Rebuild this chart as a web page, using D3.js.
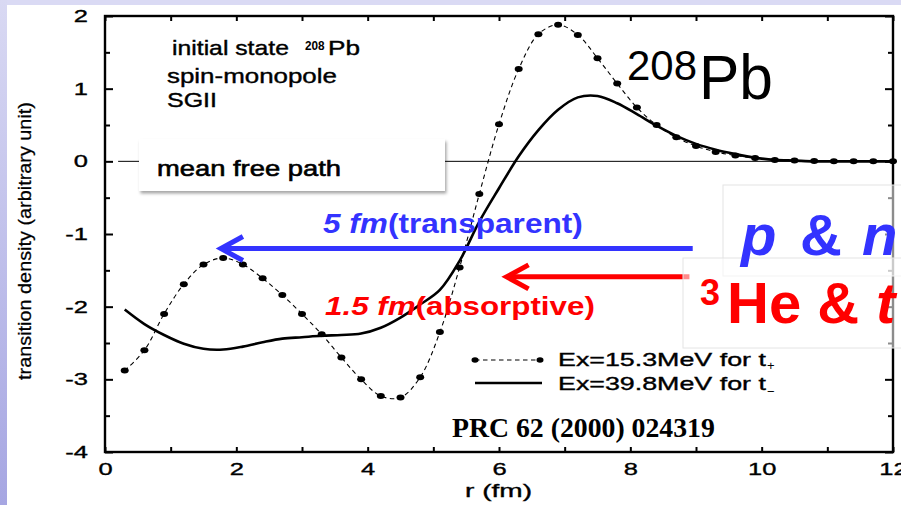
<!DOCTYPE html>
<html>
<head>
<meta charset="utf-8">
<script src="https://cdn.jsdelivr.net/npm/d3@7"></script>
<style>
  html, body { margin: 0; padding: 0; background: #fff; }
  svg { display: block; }
</style>
</head>
<body>
<svg id="chart" width="901" height="505"></svg>
<script>
// Radial grid (fm) shared by both transition densities
const radius = [0.3, 0.6, 0.9, 1.2, 1.5, 1.8, 2.1, 2.4, 2.7, 3.0,
                3.3, 3.6, 3.9, 4.2, 4.5, 4.8, 5.1, 5.4, 5.7, 6.0,
                6.3, 6.6, 6.9, 7.2, 7.5, 7.8, 8.1, 8.4, 8.7, 9.0,
                9.3, 9.6, 9.9, 10.2, 10.5, 10.8, 11.1, 11.4, 11.7, 12.0];

// Ex = 15.3 MeV, t+ channel (dashed with dots)
const densityTPlus = [-2.88, -2.60, -2.10, -1.69, -1.42, -1.33, -1.42, -1.61, -1.84, -2.10,
                      -2.38, -2.70, -3.00, -3.23, -3.25, -2.97, -2.35, -1.46, -0.45, 0.51,
                       1.27, 1.75, 1.88, 1.74, 1.42, 1.07, 0.74, 0.50, 0.33, 0.21,
                       0.13, 0.08, 0.045, 0.02, 0.01, 0.005, 0.0, 0.0, 0.0, 0.0];

// Ex = 39.8 MeV, t- channel (solid)
const densityTMinus = [-2.04, -2.24, -2.39, -2.51, -2.58, -2.59, -2.55, -2.49, -2.44, -2.42,
                       -2.40, -2.39, -2.37, -2.29, -2.15, -1.97, -1.77, -1.37, -0.83, -0.37,
                        0.07, 0.43, 0.71, 0.88, 0.90, 0.80, 0.65, 0.49, 0.35, 0.24,
                        0.16, 0.10, 0.05, 0.02, 0.01, 0.0, 0.0, 0.0, 0.0, 0.0];

const xTickValues = [0, 1, 2, 3, 4, 5, 6, 7, 8, 9, 10, 11, 12];
const xTickLabels = ["0", "", "2", "", "4", "", "6", "", "8", "", "10", "", "12"];
const yTickValues = [-4, -3.5, -3, -2.5, -2, -1.5, -1, -0.5, 0, 0.5, 1, 1.5, 2];
const yTickLabels = ["-4", "", "-3", "", "-2", "", "-1", "", "0", "", "1", "", "2"];

const legendLabels = ["Ex=15.3MeV for t", "Ex=39.8MeV for t"];
const legendSubs = ["+", "\u2212"];

// Mean-free-path arrows, in data units (r from -> to, at density level)
const mfpArrows = [
  { from: 8.95, to: 1.75, level: -1.20, color: "#3333ff" },
  { from: 8.90, to: 6.10, level: -1.59, color: "#ff0000" }
];

const SANS = "'Liberation Sans', Arial, Helvetica, sans-serif";
const SERIF = "'Liberation Serif', 'Times New Roman', serif";

const svg = d3.select("#chart");

// slide background: lavender bands along the top and left edge
const defs = svg.append("defs");
const grad = defs.append("linearGradient").attr("id", "edgeGrad")
  .attr("x1", 0).attr("y1", 0).attr("x2", 0).attr("y2", 1);
grad.append("stop").attr("offset", "0%").attr("stop-color", "#d9d9f3");
grad.append("stop").attr("offset", "100%").attr("stop-color", "#a6a6e2");
const shadow = defs.append("filter").attr("id", "boxShadow")
  .attr("x", "-10%").attr("y", "-20%").attr("width", "130%").attr("height", "160%");
shadow.append("feDropShadow").attr("dx", 1.5).attr("dy", 2.5)
  .attr("stdDeviation", 1.8).attr("flood-color", "#000").attr("flood-opacity", 0.35);

svg.append("rect").attr("x", 0).attr("y", 0).attr("width", 901).attr("height", 505).attr("fill", "#fff");
svg.append("rect").attr("x", 0).attr("y", 0).attr("width", 901).attr("height", 5).attr("fill", "#dadaf4");
svg.append("rect").attr("x", 0).attr("y", 0).attr("width", 7).attr("height", 505).attr("fill", "url(#edgeGrad)");

// scales
const x = d3.scaleLinear().domain([0, 12]).range([105, 893]);
const y = d3.scaleLinear().domain([-4, 2]).range([452, 16]);

// helper: draw a text and stretch it horizontally to a given width
function fitText(parent, px, py, width, build) {
  const g = parent.append("g").attr("transform", `translate(${px},${py})`);
  const t = g.append("text").attr("x", 0).attr("y", 0);
  build(t);
  const w = t.node().getBBox().width;
  t.attr("transform", `scale(${width / w},1)`);
  return g;
}

// slightly heavier strokes for the plot's own lettering
function ink(t, w) {
  return t.attr("stroke", "#000").attr("stroke-width", w).attr("paint-order", "stroke");
}

const plot = svg.append("g");

// zero reference line
plot.append("line")
  .attr("x1", x(0.2)).attr("x2", x(12))
  .attr("y1", y(0)).attr("y2", y(0))
  .attr("stroke", "#000").attr("stroke-width", 1);

// axes
const labelStretch = 1.5;
function styleAxis(g) {
  g.select(".domain").remove();
  g.selectAll(".tick line").attr("stroke", "#000").attr("stroke-width", 2);
  g.selectAll(".tick text").attr("fill", "#000")
    .attr("stroke", "#000").attr("stroke-width", 0.35)
    .style("font-family", SANS).style("font-size", "17px");
}

const bottomAxis = plot.append("g").attr("transform", `translate(0,${y(-4)})`)
  .call(d3.axisBottom(x).tickValues(xTickValues)
    .tickFormat((d, i) => xTickLabels[i]).tickSize(-5).tickPadding(11));
styleAxis(bottomAxis);
bottomAxis.selectAll(".tick text").attr("transform", `scale(${labelStretch},1)`);

const topAxis = plot.append("g").attr("transform", `translate(0,${y(2)})`)
  .call(d3.axisTop(x).tickValues(xTickValues).tickFormat("").tickSize(-5));
styleAxis(topAxis);

const leftAxis = plot.append("g").attr("transform", `translate(${x(0)},0)`)
  .call(d3.axisLeft(y).tickValues(yTickValues)
    .tickFormat((d, i) => yTickLabels[i]).tickSize(-8).tickPadding(17));
styleAxis(leftAxis);
leftAxis.selectAll(".tick line").attr("x2", d => Number.isInteger(d) ? 8 : 5);
leftAxis.selectAll(".tick text")
  .attr("x", -17 / labelStretch)
  .attr("transform", `scale(${labelStretch},1)`);

const rightAxis = plot.append("g").attr("transform", `translate(${x(12)},0)`)
  .call(d3.axisRight(y).tickValues(yTickValues).tickFormat("").tickSize(-8));
styleAxis(rightAxis);
rightAxis.selectAll(".tick line").attr("x2", d => Number.isInteger(d) ? -8 : -5);

// frame
plot.append("rect")
  .attr("x", x(0)).attr("y", y(2))
  .attr("width", x(12) - x(0)).attr("height", y(-4) - y(2))
  .attr("fill", "none").attr("stroke", "#000").attr("stroke-width", 2.4);

// axis titles
fitText(svg, 465, 497, 67, t => ink(t.text("r (fm)")
  .style("font-family", SANS).style("font-size", "18px").attr("fill", "#000"), 0.35));

const yTitle = svg.append("g").attr("transform", "translate(31,241) rotate(-90)");
const yTitleText = yTitle.append("text").attr("text-anchor", "middle")
  .style("font-family", SANS).style("font-size", "18px").attr("fill", "#000")
  .text("transition density (arbitrary unit)");
ink(yTitleText, 0.25);
yTitleText.attr("transform", `scale(${278 / yTitleText.node().getBBox().width},1)`);

// curves
const tPlusPts = radius.map((r, i) => [r, densityTPlus[i]]);
const tMinusPts = radius.map((r, i) => [r, densityTMinus[i]]);
const line = d3.line().x(d => x(d[0])).y(d => y(d[1])).curve(d3.curveCatmullRom.alpha(0.5));

plot.append("path").datum(tPlusPts).attr("d", line)
  .attr("fill", "none").attr("stroke", "#000").attr("stroke-width", 1.1)
  .attr("stroke-dasharray", "4.5,3.5");
plot.selectAll(".dot").data(tPlusPts).enter().append("ellipse")
  .attr("class", "dot")
  .attr("cx", d => x(d[0])).attr("cy", d => y(d[1]))
  .attr("rx", 4).attr("ry", 3).attr("fill", "#000");

plot.append("path").datum(tMinusPts).attr("d", line)
  .attr("fill", "none").attr("stroke", "#000").attr("stroke-width", 2.6)
  .attr("stroke-linejoin", "round");

// labels inside the frame
const labelFont = t => ink(t.style("font-family", SANS).style("font-size", "21px").attr("fill", "#000"), 0.4);
fitText(svg, 172, 55, 117, t => labelFont(t.text("initial state")));
fitText(svg, 305, 50, 20, t => t.text("208")
  .style("font-family", SANS).style("font-size", "12px").style("font-weight", "bold").attr("fill", "#000"));
fitText(svg, 328, 55, 32, t => labelFont(t.text("Pb")));
fitText(svg, 167, 83, 170, t => labelFont(t.text("spin-monopole")));
fitText(svg, 167, 107, 50, t => labelFont(t.text("SGII")));

// legend
const legend = svg.append("g");
const legendRows = [360, 383];
legend.append("line").attr("x1", 475).attr("x2", 540)
  .attr("y1", legendRows[0]).attr("y2", legendRows[0])
  .attr("stroke", "#000").attr("stroke-width", 1.1).attr("stroke-dasharray", "4.5,3.5");
[475, 540].forEach(cx => legend.append("ellipse").attr("cx", cx).attr("cy", legendRows[0])
  .attr("rx", 3.5).attr("ry", 2.8).attr("fill", "#000"));
legend.append("line").attr("x1", 475).attr("x2", 542)
  .attr("y1", legendRows[1]).attr("y2", legendRows[1])
  .attr("stroke", "#000").attr("stroke-width", 2.4);
legendLabels.forEach((lab, i) => {
  fitText(legend, 558, [366, 390][i], 208, t => ink(t.text(lab)
    .style("font-family", SANS).style("font-size", "18px").attr("fill", "#000"), 0.35));
  legend.append("text").attr("x", 767).attr("y", [370, 396][i])
    .style("font-family", SANS).style("font-size", "13px").attr("fill", "#000")
    .text(legendSubs[i]);
});

fitText(svg, 452, 437, 263, t => t.text("PRC 62 (2000) 024319")
  .style("font-family", SERIF).style("font-size", "27px").style("font-weight", "bold").attr("fill", "#000"));

// nucleus label
fitText(svg, 627, 80, 70, t => t.text("208")
  .style("font-family", SANS).style("font-size", "43px").attr("fill", "#000"));
fitText(svg, 699, 99, 74, t => t.text("Pb")
  .style("font-family", SANS).style("font-size", "62px").attr("fill", "#000"));

// mean free path call-out
svg.append("rect").attr("x", 139).attr("y", 139).attr("width", 306).attr("height", 52)
  .attr("fill", "#fff").attr("filter", "url(#boxShadow)");
fitText(svg, 157, 176, 184, t => ink(t.text("mean free path")
  .style("font-family", SANS).style("font-size", "22px").attr("fill", "#000"), 0.6));

// arrows
const arrows = svg.append("g");
mfpArrows.forEach(a => {
  const yy = y(a.level), x0 = x(a.from), x1 = x(a.to);
  arrows.append("line").attr("x1", x0).attr("x2", x1 + 2).attr("y1", yy).attr("y2", yy)
    .attr("stroke", a.color).attr("stroke-width", 5);
  arrows.append("polyline")
    .attr("points", `${x1 + 23},${yy - 12} ${x1 + 1},${yy} ${x1 + 23},${yy + 12}`)
    .attr("fill", "none").attr("stroke", a.color).attr("stroke-width", 5)
    .attr("stroke-linejoin", "miter");
});

fitText(svg, 323, 233, 260, t => {
  t.style("font-family", SANS).style("font-size", "27px").style("font-weight", "bold").attr("fill", "#3333ff");
  t.append("tspan").style("font-style", "italic").text("5 fm");
  t.append("tspan").text("(transparent)");
});
fitText(svg, 325, 315, 270, t => {
  t.style("font-family", SANS).style("font-size", "26px").style("font-weight", "bold").attr("fill", "#ff0000");
  t.append("tspan").style("font-style", "italic").text("1.5 fm");
  t.append("tspan").text("(absorptive)");
});

// probe boxes (semi-transparent white)
svg.append("rect").attr("x", 723).attr("y", 185).attr("width", 200).attr("height", 91)
  .attr("fill", "#fff").attr("fill-opacity", 0.55)
  .attr("stroke", "#e4e4e4").attr("stroke-width", 1);
svg.append("rect").attr("x", 683).attr("y", 258).attr("width", 240).attr("height", 90)
  .attr("fill", "#fff").attr("fill-opacity", 0.55)
  .attr("stroke", "#e4e4e4").attr("stroke-width", 1);

const pn = svg.append("text").attr("y", 255)
  .style("font-family", SANS).style("font-size", "58px").style("font-weight", "bold")
  .attr("fill", "#3333ff");
pn.append("tspan").attr("x", 741).style("font-style", "italic").text("p");
pn.append("tspan").attr("x", 800).text("&");
pn.append("tspan").attr("x", 862).style("font-style", "italic").text("n");

const he = svg.append("text")
  .style("font-family", SANS).style("font-weight", "bold").attr("fill", "#ff0000");
he.append("tspan").attr("x", 700).attr("y", 305).style("font-size", "36px").text("3");
he.append("tspan").attr("x", 727).attr("y", 323).style("font-size", "58px").text("He &");
he.append("tspan").attr("x", 876).attr("y", 323).style("font-size", "58px").style("font-style", "italic").text("t");
</script>
</body>
</html>
